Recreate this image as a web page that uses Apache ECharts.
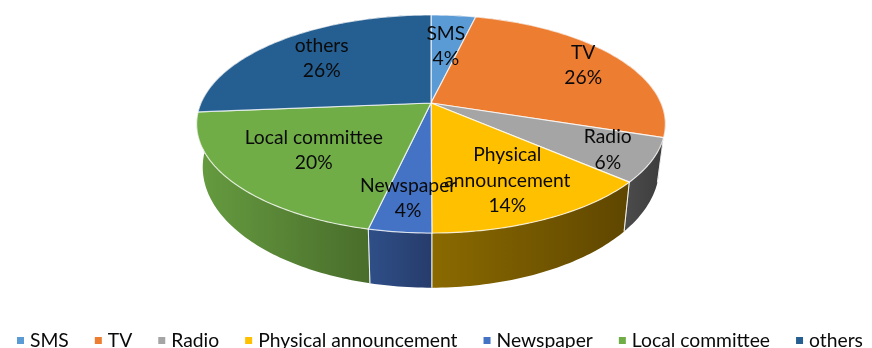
<!DOCTYPE html>
<html>
<head>
<meta charset="utf-8">
<style>html,body{margin:0;padding:0;background:#fff}#c{width:872px;height:348px}</style>
<script src="https://cdn.jsdelivr.net/npm/echarts@6/dist/echarts.min.js"></script>
</head>
<body>
<div id="c"></div>
<script>
const categories = ['SMS', 'TV', 'Radio', 'Physical announcement', 'Newspaper', 'Local committee', 'others'];
const values = [3.7, 26.3, 6.4, 13.5, 3.6, 20.1, 26.3];
const labelLines = [['SMS'], ['TV'], ['Radio'], ['Physical', 'announcement'], ['Newspaper'], ['Local committee'], ['others']];
const labelRadius = [0.66, 0.83, 0.8, 0.66, 0.73, 0.59, 0.73];
const topColors = ['#5B9BD5', '#ED7D31', '#A5A5A5', '#FFC000', '#4472C4', '#70AD47', '#255E91'];
const sideColors = [
  ['#2f5070', '#2f5070'], ['#8a4a1c', '#7a4018'], ['#4c4c4c', '#3c3c3c'], ['#8A6A00', '#5F4600'],
  ['#2f4f88', '#263c6b'], ['#669c40', '#496d2b'], ['#1c466c', '#1c466c']
];

const TOP = { cx: 431, cy: 103, rx: 230, ry: 105 };
const BOTTOM = { cx: 431, cy: 144, rx: 224, ry: 116 };
const PERSPECTIVE = 0.1926;
const FONT = 'Lato';
const FS = 19.3;

const total = values.reduce((a, b) => a + b, 0);
const starts = [];
values.reduce((acc, v, i) => { starts[i] = acc; return acc + v; }, 0);
const ang = (share) => share / total * Math.PI * 2;

function project(t, plane, f) {
  const s = 1 / (1 + PERSPECTIVE * Math.cos(t));
  const k = f === undefined ? 1 : f;
  return [plane.cx + plane.rx * Math.sin(t) * s * k, plane.cy - plane.ry * Math.cos(t) * s * k];
}
function arc(a, b, plane) {
  const n = Math.max(4, Math.ceil((b - a) / (Math.PI / 180)));
  const pts = [];
  for (let j = 0; j <= n; j++) pts.push(project(a + (b - a) * j / n, plane));
  return pts;
}
function visibleEdge(t) { return t > Math.PI * 0.55 && t < Math.PI * 1.49; }

function makeRender(i) {
  return function () {
    const a = ang(starts[i]);
    const b = ang(starts[i] + values[i]);
    const children = [];
    const side = arc(a, b, TOP).concat(arc(a, b, BOTTOM).reverse());
    children.push({
      type: 'polygon', z2: 1,
      shape: { points: side },
      style: {
        fill: new echarts.graphic.LinearGradient(0, 0, 1, 0, [
          { offset: 0, color: sideColors[i][0] },
          { offset: 1, color: sideColors[i][1] }
        ]),
        stroke: null
      }
    });
    [a, b].forEach((t) => {
      if (visibleEdge(t)) {
        const p = project(t, TOP), q = project(t, BOTTOM);
        children.push({
          type: 'line', z2: 2,
          shape: { x1: p[0], y1: p[1], x2: q[0], y2: q[1] },
          style: { stroke: 'rgba(255,255,255,0.65)', lineWidth: 1 }
        });
      }
    });
    const face = [[TOP.cx, TOP.cy]].concat(arc(a, b, TOP));
    children.push({
      type: 'polygon', z2: 3,
      shape: { points: face },
      style: { fill: topColors[i], stroke: 'rgba(255,255,255,0.75)', lineWidth: 1.2, lineJoin: 'round' }
    });
    const mid = (a + b) / 2;
    const c = project(mid, TOP, labelRadius[i]);
    const text = labelLines[i].concat([Math.round(values[i]) + '%']).join('\n');
    children.push({
      type: 'text', z2: 10,
      style: {
        x: c[0], y: c[1] + 1, text: text, fill: '#0a0a0a',
        font: FS + 'px ' + FONT, lineHeight: 25.5, align: 'center', verticalAlign: 'middle'
      }
    });
    return { type: 'group', children: children };
  };
}

const chart = echarts.init(document.getElementById('c'), null, { renderer: 'canvas' });
chart.setOption({
  animation: false,
  backgroundColor: '#fff',
  legend: {
    left: 12, top: 326, itemWidth: 7, itemHeight: 7, itemGap: 26, icon: 'rect',
    selectedMode: false,
    textStyle: { fontFamily: FONT, fontSize: FS, color: '#0a0a0a', padding: [0, 0, 0, 1] },
    data: categories
  },
  series: categories.map((name, i) => ({
    type: 'custom',
    name: name,
    coordinateSystem: 'none',
    silent: true,
    itemStyle: { color: topColors[i] },
    data: [values[i]],
    renderItem: makeRender(i)
  }))
});
</script>
</body>
</html>
